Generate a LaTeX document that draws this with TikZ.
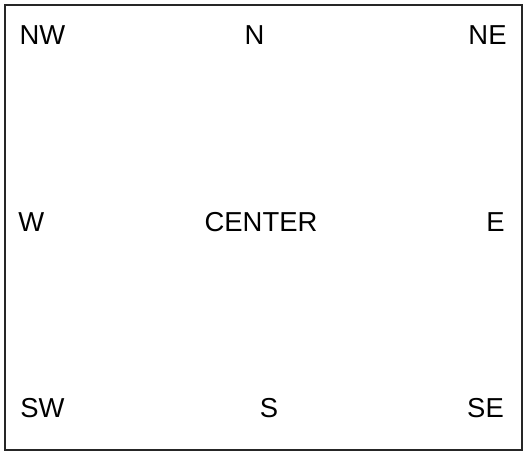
\documentclass[tikz,border=0pt]{standalone}
\usepackage{fontspec}
\setmainfont{Liberation Sans}
\begin{document}
\begin{tikzpicture}[x=0.02cm,y=-0.02cm,
  compass/.style={anchor=base,inner sep=0pt,font=\fontsize{15.6}{18}\selectfont}]
\useasboundingbox (0,0) rectangle (528,455);
\draw[line width=0.8pt,black!85] (5,5) rectangle (522,450);
\node[compass] (nw) at (42.5,45) {NW};
\node[compass] (n) at (254.5,45) {N};
\node[compass] (ne) at (487.5,45) {NE};
\node[compass] (w) at (31.3,231.7) {W};
\node[compass] (c) at (261,231.7) {CENTER};
\node[compass] (e) at (495.5,231.7) {E};
\node[compass] (sw) at (42.5,418) {SW};
\node[compass] (s) at (269,418) {S};
\node[compass] (se) at (485.5,418) {SE};
\end{tikzpicture}
\end{document}
